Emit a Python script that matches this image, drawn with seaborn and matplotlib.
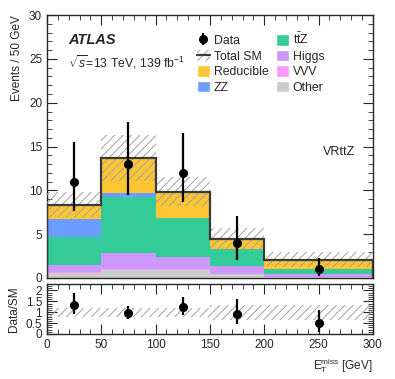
import numpy as np
import pandas as pd
import matplotlib
matplotlib.use("Agg")
import matplotlib.pyplot as plt
import seaborn as sns
from matplotlib.patches import Patch
from matplotlib.lines import Line2D
from matplotlib.ticker import MultipleLocator

# bin edges (GeV) and bin centres
edges = [0, 50, 100, 150, 200, 300]
centres = [25, 75, 125, 175, 250]

# stacked backgrounds, top to bottom
processes = ["Reducible", "ZZ", "ttZ", "Higgs", "VVV", "Other"]
reducible = [1.64, 4.0, 3.05, 1.12, 1.06]
zz = [2.06, 0.5, 0.02, 0.02, 0.02]
ttz = [3.16, 6.3, 4.36, 1.92, 0.54]
higgs = [0.8, 1.83, 1.44, 0.86, 0.33]
vvv = [0.1, 0.15, 0.08, 0.05, 0.03]
other = [0.6, 0.92, 0.92, 0.46, 0.1]
colours = ["#fdc632", "#6b9cff", "#33cc99", "#cc99ff", "#ff99ff", "#cccccc"]

# total SM uncertainty (absolute) and relative for ratio
sm_unc = [1.45, 2.6, 1.65, 1.33, 0.84]
ratio_unc = [0.2, 0.2, 0.2, 0.35, 0.35]

# data with asymmetric errors
data = [11, 13, 12, 4, 1]
data_hi = [15.5, 17.8, 16.6, 7.1, 2.25]
data_lo = [7.7, 9.5, 8.7, 2.1, 0.2]

# data / SM
ratio = [1.33, 0.95, 1.22, 0.90, 0.49]
ratio_hi = [1.87, 1.30, 1.69, 1.60, 1.09]
ratio_lo = [0.93, 0.69, 0.88, 0.47, 0.11]

sns.set_style("ticks")
plt.rcParams['font.family'] = ['Liberation Sans', 'DejaVu Sans']
plt.rcParams['mathtext.fontset'] = 'custom'
plt.rcParams['mathtext.rm'] = 'Liberation Sans'
plt.rcParams['mathtext.it'] = 'Liberation Sans:italic'
plt.rcParams['hatch.linewidth'] = 0.7

hatch_col = "#a0a0a0"

fig = plt.figure(figsize=(3.95, 3.79), dpi=100)
ax = fig.add_axes([0.119, 0.2665, 0.825, 0.6935])
rax = fig.add_axes([0.119, 0.119, 0.825, 0.1317])

vals = {"Reducible": reducible, "ZZ": zz, "ttZ": ttz, "Higgs": higgs, "VVV": vvv, "Other": other}
rows = []
for p in processes:
    for c, v in zip(centres, vals[p]):
        rows.append({"x": c, "w": v, "proc": p})
df = pd.DataFrame(rows)

sns.histplot(data=df, x="x", weights="w", hue="proc", hue_order=processes,
             palette=dict(zip(processes, colours)), multiple="stack", bins=edges,
             element="bars", alpha=1, linewidth=0, legend=False, ax=ax)

total = np.sum([vals[p] for p in processes], axis=0)
widths = np.diff(edges)

# total SM line
ax.stairs(total, edges, color="#3a3a3a", lw=1.6, zorder=4)
# uncertainty band
ax.bar(edges[:-1], 2 * np.array(sm_unc), bottom=total - np.array(sm_unc), width=widths,
       align="edge", fill=False, hatch="////", edgecolor=hatch_col, lw=0, zorder=3)

# data
dl = np.array(data) - np.array(data_lo)
dh = np.array(data_hi) - np.array(data)
eb = ax.errorbar(centres, data, yerr=[dl, dh], fmt="o", color="black", ms=5.5,
                 elinewidth=1.6, capsize=0, zorder=5)

ax.set_xlim(0, 300)
ax.set_ylim(0, 30)
ax.set_xlabel("")
ax.set_ylabel("Events / 50 GeV", fontsize=8.5, loc="top")
ax.xaxis.set_major_locator(MultipleLocator(50))
ax.xaxis.set_minor_locator(MultipleLocator(10))
ax.yaxis.set_major_locator(MultipleLocator(5))
ax.yaxis.set_minor_locator(MultipleLocator(1))
ax.tick_params(axis="both", which="both", direction="in", top=True, right=True, labelsize=8.5)
ax.tick_params(which="major", length=7)
ax.tick_params(which="minor", length=3.5)
ax.tick_params(axis="x", labelbottom=False)

ax.text(0.065, 0.905, "ATLAS", transform=ax.transAxes, fontsize=10.5,
        fontweight="bold", fontstyle="italic", va="center")
ax.text(0.065, 0.82, r"$\sqrt{s}$=13 TeV, 139 fb$^{-1}$", transform=ax.transAxes,
        fontsize=8.8, va="center")
ax.text(0.895, 0.48, "VRttZ", transform=ax.transAxes, fontsize=9, ha="center", va="center")

# legend
handles = [
    eb,
    (Patch(facecolor="none", hatch="////", edgecolor=hatch_col, lw=0),
     Line2D([], [], color="#3a3a3a", lw=1.6)),
    Patch(facecolor=colours[0]), Patch(facecolor=colours[1]),
    Patch(facecolor=colours[2]), Patch(facecolor=colours[3]),
    Patch(facecolor=colours[4]), Patch(facecolor=colours[5]),
]
labels = ["Data", "Total SM", "Reducible", "ZZ", r"t$\bar{\rm t}$Z", "Higgs", "VVV", "Other"]
ax.legend(handles, labels, ncol=2, loc="upper left", bbox_to_anchor=(0.44, 0.96),
          frameon=False, fontsize=8.8, handlelength=1.1, handleheight=1.1,
          handletextpad=0.3, columnspacing=0.6, labelspacing=0.2, borderpad=0)

# ratio panel
r = np.array(ratio)
rax.bar(edges[:-1], 2 * np.array(ratio_unc), bottom=1 - np.array(ratio_unc), width=widths,
        align="edge", fill=False, hatch="////", edgecolor=hatch_col, lw=0, zorder=2)
rax.errorbar(centres, ratio, yerr=[r - np.array(ratio_lo), np.array(ratio_hi) - r],
             fmt="o", color="black", ms=5.5, elinewidth=1.6, capsize=0, zorder=5)
rax.set_xlim(0, 300)
rax.set_ylim(0, 2.3)
rax.xaxis.set_major_locator(MultipleLocator(50))
rax.xaxis.set_minor_locator(MultipleLocator(10))
rax.yaxis.set_major_locator(MultipleLocator(0.5))
rax.yaxis.set_minor_locator(MultipleLocator(0.1))
rax.yaxis.set_major_formatter(matplotlib.ticker.FuncFormatter(lambda v, p: f"{v:g}"))
rax.tick_params(axis="both", which="both", direction="in", top=True, right=True, labelsize=8.5)
rax.tick_params(which="major", length=7)
rax.tick_params(which="minor", length=3.5)
rax.set_ylabel("Data/SM", fontsize=8.5)
rax.set_xlabel(r"E$_{\rm T}^{\rm miss}$ [GeV]", fontsize=8.5, loc="right")
for a in (ax, rax):
    for s in a.spines.values():
        s.set_linewidth(1.0)

fig.align_ylabels([ax, rax])
fig.savefig("out.png", dpi=100)
